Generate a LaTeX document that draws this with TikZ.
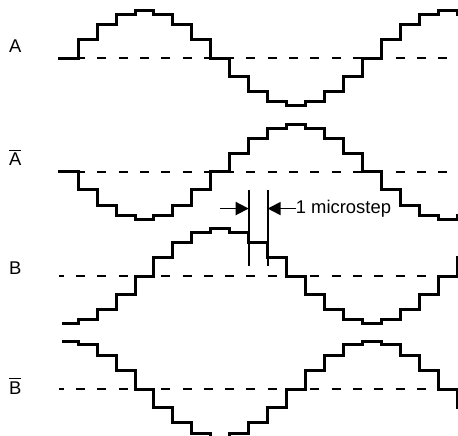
\documentclass[tikz,border=0pt]{standalone}
\usepackage{fontspec}
\setmainfont{Liberation Sans}
\usetikzlibrary{arrows, arrows.meta}

\begin{document}
\begin{tikzpicture}[x=0.5pt,y=-0.5pt,
  wave/.style={line width=1.5pt},
  zero/.style={line width=1pt,dash pattern=on 4.5pt off 6.15pt,dash phase=2.15pt},
  tick/.style={line width=0.9pt},
  dim/.style={line width=0.9pt,-{Triangle[length=6.5pt,width=6.5pt]}},
  lbl/.style={font=\fontsize{9.2}{11}\selectfont,inner sep=0pt}]
\useasboundingbox (0,0) rectangle (458,435);
\clip (0,0) rectangle (458,435);
%\draw[step=20,gray,very thin] (0,0) grid (458,435);

\node[lbl,anchor=base] (lblA) at (15.3,52.3) {A};
\node[lbl,anchor=base] (lblAbar) at (15.3,165.7) {$\overline{\mbox{A}}$};
\node[lbl,anchor=base] (lblB) at (15.3,274) {B};
\node[lbl,anchor=base] (lblBbar) at (15.3,394.3) {$\overline{\mbox{B}}$};

%%%%%%%%%%%%%%%%%%%%%%%%%%%%%%%%%%%%%%%%%
% zero lines
\draw[zero] (59,58)--(456,58);
\draw[zero] (59,171.7)--(456,171.7);
\draw[zero] (59,276)--(456,276);
\draw[zero] (59,389)--(456,389);

%%%%%%%%%%%%%%%%%%%%%%%%%%%%%%%%%%%%%%%%%
% A
\begin{scope}[shift={(59.2,58)},x=9.475pt,y=23.65pt]
\draw[wave] (-0.04,0) -| (1,.383) -| (2,.707) -| (3,.924) -| (4,1) -| (5,.924)
  -| (6,.707) -| (7,.383) -| (8,0) -| (9,-.383) -| (10,-.707) -| (11,-.924)
  -| (12,-1) -| (13,-.924) -| (14,-.707) -| (15,-.383) -| (16,0) -| (17,.383)
  -| (18,.707) -| (19,.924) -| (20,1) -| (21,.924) -- (22,.924);
\end{scope}

% A bar
\begin{scope}[shift={(59.2,171.7)},x=9.475pt,y=23.65pt]
\draw[wave] (-0.04,0) -| (1,-.383) -| (2,-.707) -| (3,-.924) -| (4,-1) -| (5,-.924)
  -| (6,-.707) -| (7,-.383) -| (8,0) -| (9,.383) -| (10,.707) -| (11,.924)
  -| (12,1) -| (13,.924) -| (14,.707) -| (15,.383) -| (16,0) -| (17,-.383)
  -| (18,-.707) -| (19,-.924) -| (20,-1) -| (21,-.924) -- (22,-.924);
\end{scope}

% B
\begin{scope}[shift={(59.2,276)},x=9.475pt,y=23.65pt]
\draw[wave] (0.16,-1) -| (1,-.924) -| (2,-.707) -| (3,-.383) -| (4,0) -| (5,.383)
  -| (6,.707) -| (7,.924) -| (8,1) -| (9,.924) -| (10,.707) -| (11,.383)
  -| (12,0) -| (13,-.383) -| (14,-.707) -| (15,-.924) -| (16,-1) -| (17,-.924)
  -| (18,-.707) -| (19,-.383) -| (20,0) -| (21,.383) -- (22,.383);
\end{scope}

% B bar
\begin{scope}[shift={(59.2,389)},x=9.475pt,y=24pt]
\draw[wave] (0.16,1) -| (1,.924) -| (2,.707) -| (3,.383) -| (4,0) -| (5,-.383)
  -| (6,-.707) -| (7,-.924) -| (8,-1) -| (9,-.924) -| (10,-.707) -| (11,-.383)
  -| (12,0) -| (13,.383) -| (14,.707) -| (15,.924) -| (16,1) -| (17,.924)
  -| (18,.707) -| (19,.383) -| (20,0) -| (21,-.383) -- (22,-.383);
\end{scope}

%%%%%%%%%%%%%%%%%%%%%%%%%%%%%%%%%%%%%%%%%
% microstep
\coordinate (msL) at (248.7,190);
\coordinate (msR) at (267.65,190);
\coordinate (msA) at (220,210);
\draw[tick] (msL)--++(0,76);
\draw[tick] (msR)--++(0,76);

\node[lbl,anchor=base west] (mstext) at (295.5,213.3) {1 microstep};

\draw[dim] (msA |- mstext.west)--(msL |- mstext.west);
\draw[dim] (mstext.west)--(msR |- mstext.west);

\end{tikzpicture}
\end{document}
